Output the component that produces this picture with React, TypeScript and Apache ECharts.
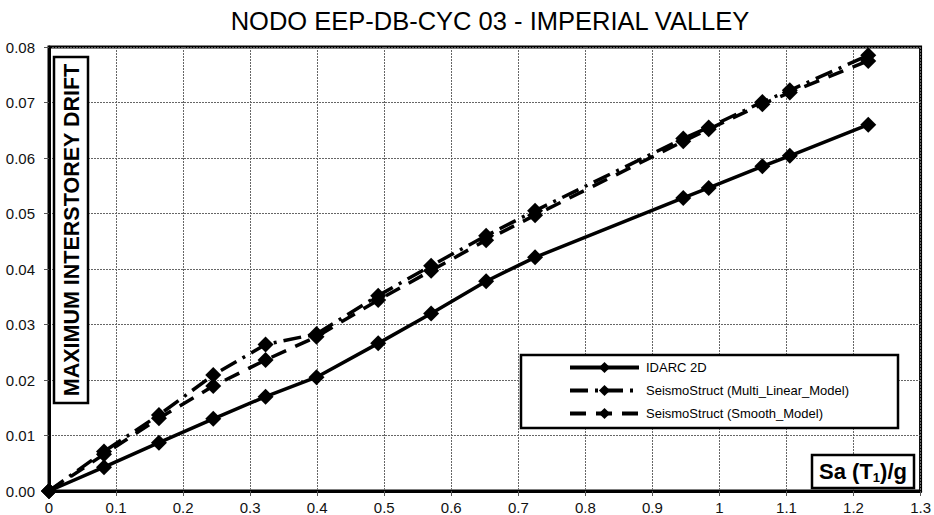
import React, { useEffect, useRef } from "react";
import * as echarts from "echarts";

const titleText = "NODO EEP-DB-CYC 03 - IMPERIAL VALLEY";
const seriesNames = [
  "IDARC 2D",
  "SeismoStruct (Multi_Linear_Model)",
  "SeismoStruct (Smooth_Model)",
];
const saValues = [0, 0.082, 0.164, 0.245, 0.323, 0.399, 0.491, 0.57, 0.652, 0.725, 0.946, 0.984, 1.064, 1.105, 1.222];
const idarcDrift = [0, 0.0043, 0.0087, 0.013, 0.017, 0.0205, 0.0266, 0.032, 0.0378, 0.0421, 0.0528, 0.0546, 0.0585, 0.0604, 0.066];
const multiLinearDrift = [0, 0.0071, 0.0137, 0.0209, 0.0264, 0.0283, 0.0352, 0.0406, 0.046, 0.0505, 0.0635, 0.0655, 0.0701, 0.0722, 0.0785];
const smoothDrift = [0, 0.0066, 0.0131, 0.0189, 0.0236, 0.0278, 0.0344, 0.0397, 0.0452, 0.0497, 0.063, 0.0652, 0.0697, 0.0718, 0.0775];
const yAxisTitle = "MAXIMUM INTERSTOREY DRIFT";

const FONT = "Arial, 'Liberation Sans', sans-serif";

function pairs(xs: number[], ys: number[]) {
  return xs.map((x, i) => [x, ys[i]]);
}

export default function App() {
  const ref = useRef<HTMLDivElement>(null);
  useEffect(() => {
    document.body.style.margin = "0";
    if (!ref.current) return;
    const chart = echarts.init(ref.current, null, { renderer: "svg" });
    const common = {
      type: "line",
      symbol: "diamond",
      symbolSize: 16,
      clip: false,
      itemStyle: { color: "#000" },
      emphasis: { disabled: true },
    };
    chart.setOption({
      animation: false,
      backgroundColor: "#fff",
      title: {
        text: titleText,
        left: 485,
        textAlign: "center",
        top: 3,
        textStyle: { fontFamily: FONT, fontSize: 25.5, fontWeight: "normal", color: "#000" },
      },
      grid: {
        left: 49,
        top: 47,
        width: 874,
        height: 446,
        show: true,
        borderColor: "#000",
        borderWidth: 3,
        backgroundColor: "transparent",
      },
      legend: {
        orient: "vertical",
        left: 568,
        top: 361,
        z: 100,
        itemWidth: 69,
        itemHeight: 14,
        itemGap: 10,
        padding: 0,
        selectedMode: false,
        lineStyle: { width: 4 },
        textStyle: { fontFamily: FONT, fontSize: 13, color: "#000", padding: [0, 0, 0, 2] },
        data: seriesNames,
      },
      xAxis: {
        type: "value",
        min: 0,
        max: 1.3,
        interval: 0.1,
        axisLine: { show: true, lineStyle: { color: "#000", width: 3 } },
        axisTick: { show: true, length: 5, lineStyle: { color: "#555", width: 1 } },
        axisLabel: {
          fontFamily: FONT,
          fontSize: 15,
          color: "#111",
          margin: 9,
          formatter: (v: number) => String(Math.round(v * 10) / 10),
        },
        splitLine: { show: true, lineStyle: { color: "#666", type: [2, 1], width: 1 } },
      },
      yAxis: {
        type: "value",
        min: 0,
        max: 0.08,
        interval: 0.01,
        axisLine: { show: true, lineStyle: { color: "#000", width: 3 } },
        axisTick: { show: true, length: 5, lineStyle: { color: "#555", width: 1 } },
        axisLabel: {
          fontFamily: FONT,
          fontSize: 15,
          color: "#111",
          margin: 14,
          formatter: (v: number) => v.toFixed(2),
        },
        splitLine: { show: true, lineStyle: { color: "#666", type: [2, 1], width: 1 } },
      },
      series: [
        {
          ...common,
          name: seriesNames[0],
          data: pairs(saValues, idarcDrift),
          lineStyle: { color: "#000", width: 3.5, type: "solid" },
          z: 3,
        },
        {
          ...common,
          name: seriesNames[1],
          data: pairs(saValues, multiLinearDrift),
          lineStyle: { color: "#000", width: 3.5, type: [18, 7, 3, 7] },
          z: 2,
        },
        {
          ...common,
          name: seriesNames[2],
          data: pairs(saValues, smoothDrift),
          lineStyle: { color: "#000", width: 3.5, type: [16, 10] },
          z: 2,
        },
      ],
      graphic: [
        {
          type: "rect",
          shape: { x: 521, y: 355, width: 377, height: 73 },
          style: { fill: "#fff", stroke: "#000", lineWidth: 2.5 },
          z: 50,
        },
        {
          type: "rect",
          shape: { x: 54, y: 57, width: 34, height: 346 },
          style: { fill: "#fff", stroke: "#000", lineWidth: 2.5 },
          z: 50,
        },
        {
          type: "text",
          x: 72,
          y: 230,
          rotation: Math.PI / 2,
          style: {
            text: yAxisTitle,
            fontFamily: FONT,
            fontSize: 21.5,
            fontWeight: "bold",
            fill: "#000",
            align: "center",
            verticalAlign: "middle",
          },
          z: 51,
        },
        {
          type: "rect",
          shape: { x: 812, y: 455, width: 102, height: 33 },
          style: { fill: "#fff", stroke: "#000", lineWidth: 2.5 },
          z: 50,
        },
        {
          type: "text",
          x: 863,
          y: 471,
          style: {
            text: "{a|Sa (T}{s|1}{a|)/g}",
            align: "center",
            verticalAlign: "middle",
            rich: {
              a: { fontFamily: FONT, fontSize: 22, fontWeight: "bold", fill: "#000", lineHeight: 26, verticalAlign: "middle" },
              s: { fontFamily: FONT, fontSize: 13, fontWeight: "bold", fill: "#000", lineHeight: 26, verticalAlign: "bottom", padding: [11, 0, 0, 0] },
            },
          },
          z: 51,
        },
      ],
    });
    return () => chart.dispose();
  }, []);
  return <div ref={ref} style={{ width: 934, height: 515 }} />;
}
